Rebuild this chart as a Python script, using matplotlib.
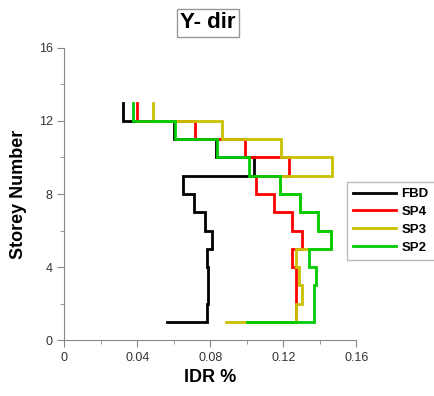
import numpy as np
import matplotlib
matplotlib.use('Agg')
import matplotlib.pyplot as plt
from matplotlib.ticker import MultipleLocator, FixedLocator

plt.rcParams['font.family'] = ['Liberation Sans', 'DejaVu Sans']

# storey levels 1..13, drift given for each storey band (k -> k+1)
storeys = np.arange(1, 14)

# first entry = start of the bottom horizontal line at storey 1
fbd = [0.056, 0.078, 0.079, 0.079, 0.078, 0.081, 0.077, 0.071, 0.065,
       0.1037, 0.083, 0.060, 0.032]
sp4 = [0.100, 0.127, 0.127, 0.127, 0.1247, 0.130, 0.1247, 0.115, 0.105,
       0.123, 0.099, 0.0717, 0.0397]
sp3 = [0.0887, 0.127, 0.130, 0.1284, 0.127, 0.146, 0.139, 0.129, 0.118,
       0.1467, 0.119, 0.0863, 0.0485]
sp2 = [0.100, 0.137, 0.137, 0.138, 0.134, 0.146, 0.139, 0.129, 0.118,
       0.101, 0.0836, 0.0607, 0.0375]

labels = ['FBD', 'SP4', 'SP3', 'SP2']
colors = ['black', '#ff0000', '#c8c000', '#00cc00']


def main():
    fig = plt.figure(figsize=(4.35, 3.96), dpi=100)
    ax = fig.add_axes([0.148, 0.1414, 0.671, 0.7374])

    for data, lab, col in zip([fbd, sp4, sp3, sp2], labels, colors):
        ax.plot(data, storeys, drawstyle='steps-post', color=col, lw=2.0,
                label=lab, solid_joinstyle='miter')

    ax.set_xlim(0, 0.16)
    ax.set_ylim(0, 16)
    ax.xaxis.set_major_locator(FixedLocator([0, 0.04, 0.08, 0.12, 0.16]))
    ax.xaxis.set_minor_locator(MultipleLocator(0.02))
    ax.yaxis.set_major_locator(MultipleLocator(4))
    ax.yaxis.set_minor_locator(MultipleLocator(2))
    ax.set_xticklabels(['0', '0.04', '0.08', '0.12', '0.16'])

    for s in ['top', 'right']:
        ax.spines[s].set_visible(False)
    for s in ['left', 'bottom']:
        ax.spines[s].set_color('#888888')
        ax.spines[s].set_linewidth(0.8)

    ax.tick_params(which='both', direction='out', color='#888888',
                   labelsize=9, labelcolor='#333333')
    ax.tick_params(which='major', length=5)
    ax.tick_params(which='minor', length=3)

    ax.set_xlabel('IDR %', fontsize=13, fontweight='bold', labelpad=4)
    ax.set_ylabel('Storey Number', fontsize=13, fontweight='bold', labelpad=8)

    fig.text(0.478, 0.942, 'Y- dir', fontsize=16, fontweight='bold',
             ha='center', va='center',
             bbox=dict(facecolor='white', edgecolor='#999999', pad=2.5, lw=1))

    leg = ax.legend(loc='upper left', bbox_to_anchor=(0.797, 0.54),
                    bbox_transform=fig.transFigure, frameon=True,
                    fancybox=False, edgecolor='#aaaaaa', handlelength=3.3,
                    prop={'weight': 'bold', 'size': 9.5}, borderpad=0.45,
                    labelspacing=0.42, handletextpad=0.4, borderaxespad=0)
    leg.get_frame().set_linewidth(1.0)

    fig.savefig('out.png', dpi=100)


if __name__ == '__main__':
    main()
